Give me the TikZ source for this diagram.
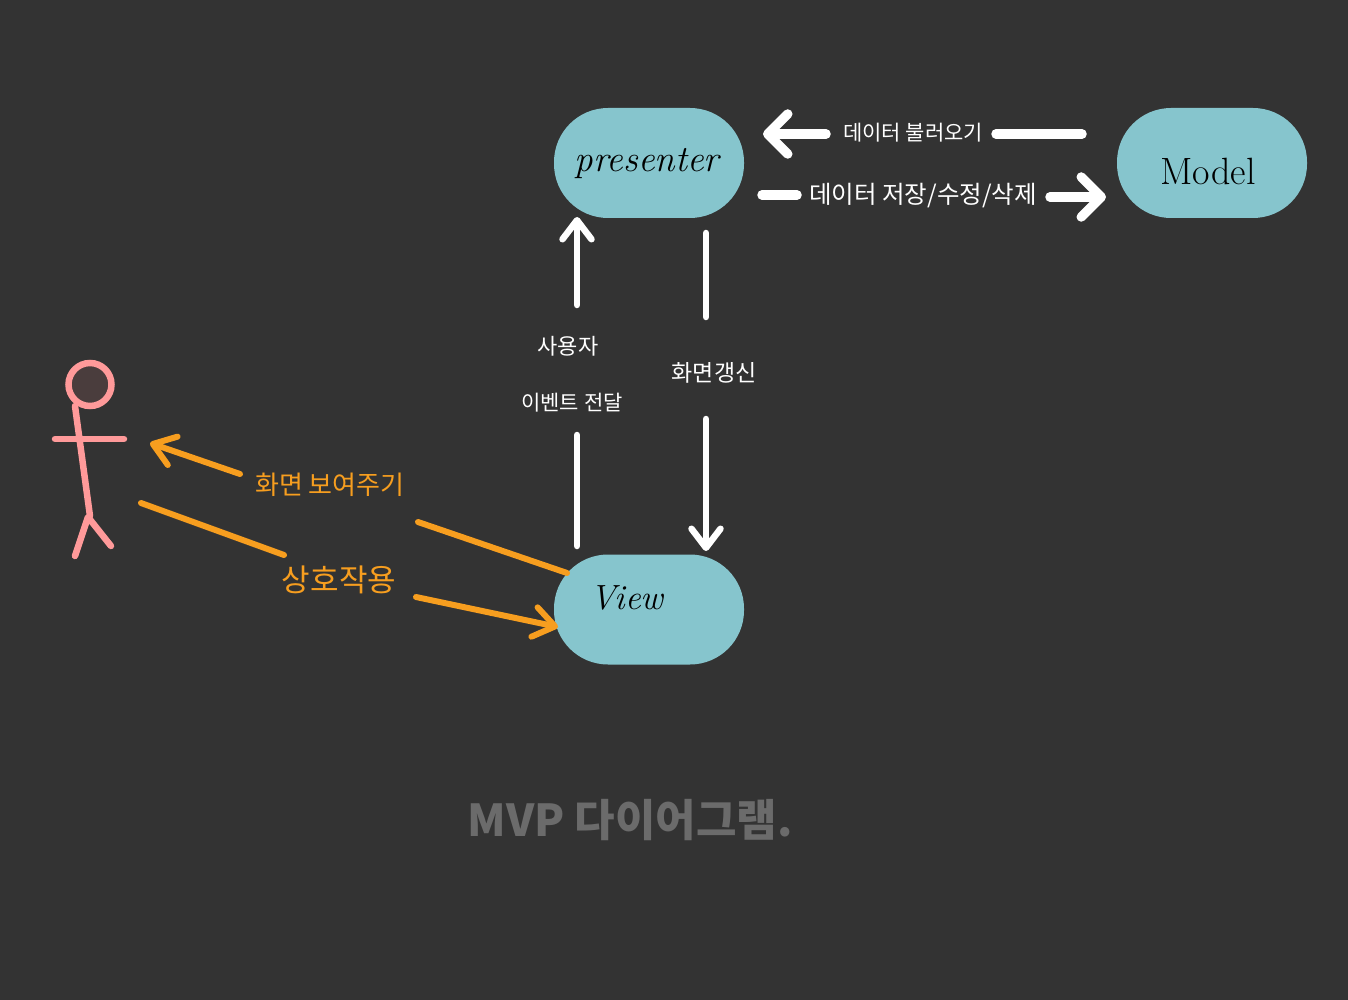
\documentclass[tikz,border=0pt]{standalone}
\usepackage{fontspec}
\usetikzlibrary{arrows.meta}
\newfontfamily\kr{Noto Sans CJK KR}
\definecolor{bgc}{HTML}{333333}
\definecolor{tealc}{HTML}{86C5CD}
\definecolor{orangec}{HTML}{F79E1F}
\definecolor{pinkc}{HTML}{FF9A9A}
\definecolor{headc}{HTML}{4A3D3D}
\definecolor{grayc}{HTML}{6B6B6B}
\tikzset{
  x=1pt,y=-1pt,
  pill/.style={fill=tealc,draw=none,minimum width=190pt,minimum height=110pt,rounded corners=54pt,inner sep=0pt},
  nodetext/.style={text=black,inner sep=0pt},
  whitelabel/.style={text=white,inner sep=0pt},
  orangelabel/.style={text=orangec,inner sep=0pt},
  thickwhite/.style={draw=white,line width=9.5pt,line cap=round},
  thinwhite/.style={draw=white,line width=6.5pt,line cap=round},
  orangeline/.style={draw=orangec,line width=6pt,line cap=round},
  pinkline/.style={draw=pinkc,line width=6.5pt,line cap=round},
  tipbig/.style={-{Straight Barb[round,length=20pt,width=40pt,line width=9.5pt]}},
  tipmid/.style={-{Straight Barb[round,length=19pt,width=29pt,line width=6.5pt]}},
  tipsmall/.style={-{Straight Barb[round,length=21pt,width=30pt,line width=6pt]}},
}
\begin{document}
\begin{tikzpicture}
\useasboundingbox (0,0) rectangle (1348,1000);
\fill[bgc] (0,0) rectangle (1348,1000);

% boxes
\node[pill] (presenter) at (649,163) {};
\node[pill] (model) at (1212,163) {};
\node[pill] (view) at (649,609.5) {};
\node[nodetext,font=\itshape\fontsize{37}{37}\selectfont] (presenterT) at (647,164) {presenter};
\node[nodetext,font=\fontsize{38}{38}\selectfont] (modelT) at (1208,171) {Model};
\node[nodetext,font=\itshape\fontsize{35}{35}\selectfont] (viewT) at (627,598) {View};

% free ends
\coordinate (m1) at (1082,134); \coordinate (m2) at (996,134);
\coordinate (m3) at (826,134);  \coordinate (m4) at (763,134);
\coordinate (p1) at (762,195);  \coordinate (p2) at (797,195);
\coordinate (p3) at (1050,197); \coordinate (p4) at (1106,197);
\coordinate (v1) at (577,546);  \coordinate (v2) at (577,435);
\coordinate (v3) at (577,305);  \coordinate (v4) at (577,217);
\coordinate (q1) at (706,233);  \coordinate (q2) at (706,317);
\coordinate (q3) at (706,419);  \coordinate (q4) at (706,551);
\coordinate (s1) at (567,573);  \coordinate (s2) at (418,522);
\coordinate (s3) at (240,474);  \coordinate (s4) at (150,443);
\coordinate (u1) at (141,503);  \coordinate (u2) at (284,555);
\coordinate (u3) at (416,597);  \coordinate (u4) at (558,627);

% white connectors
\draw[thickwhite] (m1) -- (m2);
\draw[thickwhite,tipbig] (m3) -- (m4);
\draw[thickwhite] (p1) -- (p2);
\draw[thickwhite,tipbig] (p3) -- (p4);
\draw[thinwhite] (v1) -- (v2);
\draw[thinwhite,tipmid] (v3) -- (v4);
\draw[thinwhite] (q1) -- (q2);
\draw[thinwhite,tipmid] (q3) -- (q4);

% orange connectors
\draw[orangeline] (s1) -- (s2);
\draw[orangeline,tipsmall] (s3) -- (s4);
\draw[orangeline] (u1) -- (u2);
\draw[orangeline,tipsmall] (u3) -- (u4);

% labels
\node[whitelabel,font=\kr\fontsize{21}{21}\selectfont] (l1) at (913,133) {데이터 불러오기};
\node[whitelabel,font=\kr\fontsize{24.5}{25}\selectfont] (l2) at (923,196) {데이터 저장/수정/삭제};
\node[whitelabel,font=\kr\fontsize{22}{22}\selectfont] (l3) at (568,346) {사용자};
\node[whitelabel,font=\kr\fontsize{21}{21}\selectfont] (l4) at (572,403) {이벤트 전달};
\node[whitelabel,font=\kr\fontsize{23}{23}\selectfont] (l5) at (714,373) {화면갱신};
\node[orangelabel,font=\kr\fontsize{26}{26}\selectfont] (l6) at (330,485) {화면 보여주기};
\node[orangelabel,font=\kr\fontsize{31}{31}\selectfont] (l7) at (339,580) {상호작용};
\node[text=grayc,inner sep=0pt,font=\kr\bfseries\fontsize{44}{44}\selectfont] (title) at (630,820) {MVP 다이어그램.};

% stick figure
\node[circle,draw=pinkc,fill=headc,line width=6.5pt,minimum size=43pt,inner sep=0pt] (head) at (90,384.5) {};
\coordinate (neck) at (75,406); \coordinate (hip) at (90,516);
\coordinate (armL) at (55,439); \coordinate (armR) at (124,439);
\coordinate (crotch) at (88,517); \coordinate (legL) at (75,556); \coordinate (legR) at (111,546);
\draw[pinkline] (neck) -- (hip);
\draw[pinkline] (armL) -- (armR);
\draw[pinkline,line join=round] (legL) -- (crotch) -- (legR);
\end{tikzpicture}
\end{document}
